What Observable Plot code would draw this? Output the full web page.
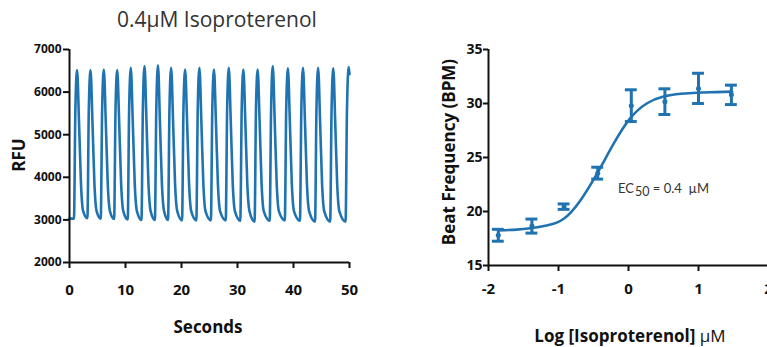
<!DOCTYPE html>
<html>
<head>
<meta charset="utf-8">
<script src="https://cdn.jsdelivr.net/npm/d3@7"></script>
<script src="https://cdn.jsdelivr.net/npm/@observablehq/plot@0.6"></script>
<style>
  html, body { margin: 0; padding: 0; background: #fff; }
  body { width: 767px; height: 347px; position: relative; overflow: hidden; font-family: "Open Sans", Lato, sans-serif; }
  .abs { position: absolute; white-space: nowrap; line-height: normal; }
  #left, #right { position: absolute; top: 0; }
  #left { left: 0; width: 385px; }
  #right { left: 385px; width: 400px; }
  #left svg, #right svg { max-width: none !important; }
  .lbl { font-weight: bold; color: #111; font-size: 17px; font-family: "Open Sans", sans-serif; }
</style>
</head>
<body>
<div id="left"></div>
<div id="right"></div>
<div class="abs" id="title" style="left:117px; top:5px; font-size:21px; color:#333;">0.4µM Isoproterenol</div>
<div class="abs lbl" id="rfu" style="left:18px; top:155px; transform: translate(-50%,-50%) rotate(-90deg);">RFU</div>
<div class="abs lbl" id="sec" style="left:208px; top:326px; transform: translate(-50%,-50%);">Seconds</div>
<div class="abs lbl" id="bpm" style="left:448px; top:152px; transform: translate(-50%,-50%) rotate(-90deg);">Beat Frequency (BPM)</div>
<div class="abs lbl" id="logl" style="left:630px; top:335px; transform: translate(-50%,-50%);">Log [Isoproterenol] <span style="font-weight:normal">µM</span></div>
<div class="abs" id="ec50" style="left:618px; top:180px; font-size:13px; color:#333; font-family: Lato, sans-serif;">EC<span style="font-size:12.5px; position:relative; top:3px; margin-left:1px;">50</span> = 0.4 &nbsp;µM</div>
<script>
// ---------- Left panel: calcium trace (seconds, RFU) ----------
const traceTime = [
  0.00, 0.80,
  1.05, 1.35, 1.70, 2.05, 2.45, 3.20,
  3.45, 3.75, 4.10, 4.45, 4.85, 5.58,
  5.83, 6.13, 6.48, 6.83, 7.23, 7.97,
  8.22, 8.52, 8.87, 9.22, 9.62, 10.40,
  10.65, 10.95, 11.30, 11.65, 12.05, 12.85,
  13.10, 13.40, 13.75, 14.10, 14.50, 15.25,
  15.50, 15.80, 16.15, 16.50, 16.90, 17.60,
  17.85, 18.15, 18.50, 18.85, 19.25, 20.10,
  20.35, 20.65, 21.00, 21.35, 21.75, 22.65,
  22.90, 23.20, 23.55, 23.90, 24.30, 25.25,
  25.50, 25.80, 26.15, 26.50, 26.90, 27.90,
  28.15, 28.45, 28.80, 29.15, 29.55, 30.50,
  30.75, 31.05, 31.40, 31.75, 32.15, 33.05,
  33.30, 33.60, 33.95, 34.30, 34.70, 35.75,
  36.00, 36.30, 36.65, 37.00, 37.40, 38.45,
  38.70, 39.00, 39.35, 39.70, 40.10, 41.15,
  41.40, 41.70, 42.05, 42.40, 42.80, 43.85,
  44.10, 44.40, 44.75, 45.10, 45.50, 46.55,
  46.80, 47.10, 47.45, 47.80, 48.20, 49.30,
  49.55, 49.85, 50.00
];
const traceRFU = [
  3030, 3030,
  5600, 6520, 5300, 3850, 3200, 3040,
  5600, 6520, 5300, 3850, 3200, 3030,
  5600, 6530, 5300, 3850, 3200, 3020,
  5600, 6520, 5300, 3850, 3200, 3010,
  5600, 6570, 5300, 3850, 3200, 3000,
  5600, 6610, 5300, 3850, 3200, 3000,
  5600, 6630, 5300, 3850, 3200, 3000,
  5600, 6570, 5300, 3850, 3200, 2990,
  5600, 6530, 5300, 3850, 3200, 2990,
  5600, 6570, 5300, 3850, 3200, 2990,
  5600, 6530, 5300, 3850, 3200, 2990,
  5600, 6570, 5300, 3850, 3200, 2980,
  5600, 6530, 5300, 3850, 3200, 2960,
  5600, 6530, 5300, 3850, 3200, 2980,
  5600, 6610, 5300, 3850, 3200, 2990,
  5600, 6560, 5300, 3850, 3200, 2980,
  5600, 6570, 5300, 3850, 3200, 2960,
  5600, 6570, 5300, 3850, 3200, 2960,
  5600, 6560, 5300, 3850, 3200, 2960,
  5600, 6590, 6420
];
const rfuTicks = [2000, 3000, 4000, 5000, 6000, 7000];
const secTicks = [0, 10, 20, 30, 40, 50];

// ---------- Right panel: dose response ----------
const logConc = [-1.86, -1.38, -0.92, -0.44, 0.04, 0.52, 1.00, 1.47];
const bpmMean = [17.8, 18.65, 20.45, 23.55, 29.8, 30.17, 31.4, 30.8];
const bpmErr  = [0.55, 0.65, 0.25, 0.55, 1.47, 1.19, 1.4, 0.9];
const fitLogConc = [-1.86, -1.6, -1.4, -1.17, -0.93, -0.69, -0.45, -0.21, 0.02, 0.26, 0.5, 0.75, 0.98, 1.25, 1.48];
const fitBpm     = [18.25, 18.32, 18.45, 18.7, 19.3, 21.0, 23.5, 26.3, 28.6, 30.0, 30.65, 30.9, 31.0, 31.05, 31.1];
const bpmTicks = [15, 20, 25, 30, 35];
const logTicks = [-2, -1, 0, 1, 2];

const BLUE = "#1f73b0";
const FONT = "'Open Sans', Lato, sans-serif";

const trace = traceTime.map((t, i) => ({t, v: traceRFU[i]}));
const pts = logConc.map((x, i) => ({x, m: bpmMean[i], lo: bpmMean[i] - bpmErr[i], hi: bpmMean[i] + bpmErr[i]}));
const fit = fitLogConc.map((x, i) => ({x, y: fitBpm[i]}));

const left = Plot.plot({
  width: 385, height: 347,
  marginLeft: 69, marginRight: 36, marginTop: 49, marginBottom: 85,
  style: {fontFamily: FONT, background: "transparent", overflow: "visible", maxWidth: "none"},
  x: {domain: [0, 50]},
  y: {domain: [2000, 7000]},
  marks: [
    Plot.line(trace, {x: "t", y: "v", stroke: BLUE, strokeWidth: 2.6, curve: "monotone-x"}),
    Plot.ruleX([0], {stroke: "#111", strokeWidth: 2}),
    Plot.ruleY([2000], {stroke: "#111", strokeWidth: 2}),
    Plot.axisY({ticks: rfuTicks, tickFormat: d => String(d), tickSize: 6, tickPadding: 2, fontSize: 12, fontWeight: "bold", fill: "#111", stroke: "#111", strokeWidth: 2, label: null}),
    Plot.axisX({ticks: secTicks, tickFormat: d => String(d), tickSize: 6, tickPadding: 16, fontSize: 15, fontWeight: "bold", fill: "#111", stroke: "#111", strokeWidth: 2, label: null})
  ]
});
document.getElementById("left").appendChild(left);

const right = Plot.plot({
  width: 400, height: 347,
  marginLeft: 103, marginRight: 17, marginTop: 49, marginBottom: 82,
  style: {fontFamily: FONT, background: "transparent", overflow: "visible", maxWidth: "none"},
  x: {domain: [-2, 2]},
  y: {domain: [15, 35]},
  marks: [
    Plot.line(fit, {x: "x", y: "y", stroke: BLUE, strokeWidth: 2.6, curve: "natural"}),
    Plot.ruleX(pts, {x: "x", y1: "lo", y2: "hi", stroke: BLUE, strokeWidth: 3}),
    Plot.ruleY(pts, {y: "hi", x1: d => d.x - 0.085, x2: d => d.x + 0.085, stroke: BLUE, strokeWidth: 3}),
    Plot.ruleY(pts, {y: "lo", x1: d => d.x - 0.085, x2: d => d.x + 0.085, stroke: BLUE, strokeWidth: 3}),
    Plot.dot(pts, {x: "x", y: "m", r: 2.5, fill: BLUE}),
    Plot.ruleX([-2], {stroke: "#111", strokeWidth: 2}),
    Plot.ruleY([15], {stroke: "#111", strokeWidth: 2}),
    Plot.axisY({ticks: bpmTicks, tickFormat: d => String(d), tickSize: 5, tickPadding: 1, fontSize: 14, fontWeight: "bold", fill: "#111", stroke: "#111", strokeWidth: 2, label: null}),
    Plot.axisX({ticks: logTicks, tickFormat: d => String(d), tickSize: 6, tickPadding: 12, fontSize: 15, fontWeight: "bold", fill: "#111", stroke: "#111", strokeWidth: 2, label: null})
  ]
});
document.getElementById("right").appendChild(right);
</script>
</body>
</html>
